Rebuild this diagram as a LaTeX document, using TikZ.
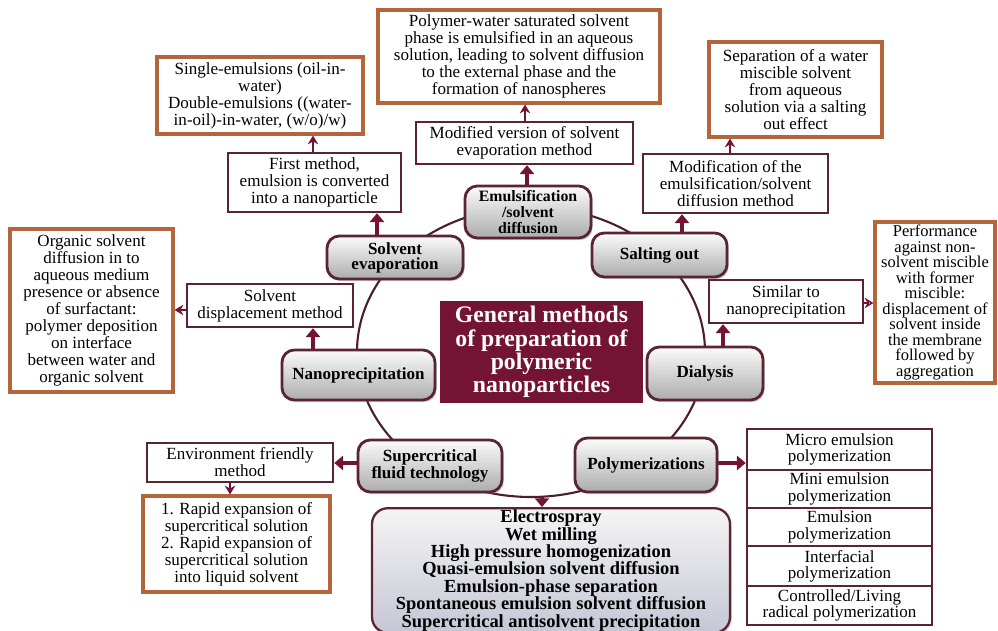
\documentclass[tikz,border=0pt]{standalone}
\usepackage{fontspec}
\setmainfont{Liberation Serif}
\usepackage{tikz}
\usetikzlibrary{arrows.meta,calc,shadows}
\definecolor{wine}{HTML}{741434}
\definecolor{maroonline}{HTML}{5A2432}
\definecolor{arcline}{HTML}{4A1F28}
\definecolor{orangeedge}{HTML}{B5653A}
\definecolor{lavender}{HTML}{C6C6D6}
\tikzset{
  wh/.style 2 args={minimum width=#1*0.02cm,minimum height=#2*0.02cm},
  method/.style={draw=maroonline,line width=1.6pt,rounded corners=7pt,top color=gray!3,
    bottom color=gray!65,align=center,font=\fontsize{9.7pt}{8.6pt}\bfseries,inner sep=1pt,
    drop shadow={opacity=.35,shadow xshift=1pt,shadow yshift=-1.2pt}},
  note/.style={draw=maroonline,line width=1.4pt,fill=white,align=center,inner sep=1pt},
  detail/.style={draw=orangeedge,line width=1.8pt,fill=white,align=center,inner sep=1pt},
  hub/.style={fill=wine,text=white,align=center,font=\fontsize{13.5pt}{13.2pt}\bfseries},
  fat/.style={-{Triangle[length=5pt,width=8pt]},draw=wine,line width=2.4pt},
  thin/.style={-{Stealth[length=5pt,width=6pt]},draw=wine,line width=1pt},
}

\begin{document}
\begin{tikzpicture}[x=0.02cm,y=-0.02cm,>=Stealth,font=\fontsize{9.7pt}{9.7pt}\selectfont]
  \useasboundingbox (0,0) rectangle (998,631);
  % ring linking the methods, drawn first so the boxes cover it
  \draw[arcline,line width=1.2pt] (531,352) ellipse (174 and 145);
  \coordinate (ringbot) at (542,497);
  \node[hub,wh={203}{102}] (hub) at (541.5,352)
    {General methods\\of preparation of\\polymeric\\nanoparticles};

  % methods sitting on the ring
  \node[method,wh={136}{43}] (solvevap) at (395,257.5) {Solvent\\evaporation};
  \node[method,wh={126}{52},font=\fontsize{9pt}{9pt}\bfseries] (emuls) at (528,212) {Emulsification\\/solvent\\diffusion};
  \node[method,wh={135}{44}] (saltout) at (659.5,255) {Salting out};
  \node[method,wh={153}{50}] (nanop) at (358.5,375) {Nanoprecipitation};
  \node[method,wh={116}{53}] (dialysis) at (705,373.5) {Dialysis};
  \node[method,wh={144}{52}] (superc) at (430,466) {Supercritical\\fluid technology};
  \node[method,wh={142}{54}] (polyz) at (646,465) {Polymerizations};

  % first level notes
  \node[note,wh={173}{59}] (first) at (314.5,182.5) {First method,\\emulsion is converted\\into a nanoparticle};
  \node[note,wh={166}{43}] (displ) at (270,305.5) {Solvent\\displacement method};
  \node[note,wh={217}{42}] (modver) at (524.5,143) {Modified version of solvent\\evaporation method};
  \node[note,wh={185}{59}] (modif) at (735.5,183.5) {Modification of the\\emulsification/solvent\\diffusion method};
  \node[note,wh={154}{43}] (similar) at (786,301.5) {Similar to\\nanoprecipitation};
  \node[note,wh={186}{39}] (envf) at (240,462.5) {Environment friendly\\method};

  % second level notes
  \node[detail,wh={206}{77}] (sing) at (260,95.5)
    {Single-emulsions (oil-in-\\water)\\Double-emulsions ((water-\\in-oil)-in-water, (w/o)/w)};
  \node[detail,wh={163}{163}] (organic) at (91.5,310.5)
    {Organic solvent\\diffusion in to\\aqueous medium\\presence or absence\\of surfactant:\\polymer deposition\\on interface\\between water and\\organic solvent};
  \node[detail,wh={282}{93}] (polyw) at (519,56.5)
    {Polymer-water saturated solvent\\phase is emulsified in an aqueous\\solution, leading to solvent diffusion\\to the external phase and the\\formation of nanospheres};
  \node[detail,wh={173}{95}] (separ) at (795.5,89.5)
    {Separation of a water\\miscible solvent\\from aqueous\\solution via a salting\\out effect};
  \node[detail,wh={120}{161},font=\fontsize{9.4pt}{8.8pt}\selectfont] (perf) at (935,302.5)
    {Performance\\against non-\\solvent miscible\\with former\\miscible:\\displacement of\\solvent inside\\the membrane\\followed by\\aggregation};
  \node[detail,wh={187}{96}] (rapid) at (236.5,544)
    {1. Rapid expansion of\\supercritical solution\\2. Rapid expansion of\\supercritical solution\\into liquid solvent};

  % polymerization list
  \foreach \i/\y/\h/\t in {1/449.5/41/{Micro emulsion\\polymerization},
      2/489/38/{Mini emulsion\\polymerization},
      3/527/38/{Emulsion\\polymerization},
      4/566/40/{Interfacial\\polymerization},
      5/605.5/39/{Controlled/Living\\radical polymerization}}
    \node[note,wh={185}{\h},font=\fontsize{9.7pt}{9.2pt}\selectfont] (list\i) at (839.5,\y) {\t};

  \node[method,wh={358}{117},rounded corners=9pt,top color=gray!8,bottom color=lavender,
    line width=1.3pt,font=\fontsize{10.5pt}{9.9pt}\bfseries] (others) at (551,570.5)
    {Electrospray\\Wet milling\\High pressure homogenization\\Quasi-emulsion solvent diffusion\\Emulsion-phase separation\\Spontaneous emulsion solvent diffusion\\Supercritical antisolvent precipitation};

  % connectors
  \draw[fat] (solvevap.north -| 377,0) -- (first.south -| 377,0);
  \draw[thin] (first.north -| 313,0) -- (sing.south -| 313,0);
  \draw[fat] (nanop.north -| 313,0) -- (displ.south -| 313,0);
  \draw[thin] (displ.west |- 0,310) -- (organic.east |- 0,310);
  \draw[fat] (emuls.north -| 527,0) -- (modver.south -| 527,0);
  \draw[thin] (modver.north -| 525,0) -- (polyw.south -| 525,0);
  \draw[fat] (saltout.north -| 682,0) -- (modif.south -| 682,0);
  \draw[thin] (modif.north -| 730,0) -- (separ.south -| 730,0);
  \draw[fat] (dialysis.north -| 723,0) -- (similar.south -| 723,0);
  \draw[-{Stealth[open,length=5pt,width=6pt]},wine,line width=1pt] (similar.east |- 0,303) -- (perf.west |- 0,303);
  \draw[fat] (superc.west |- 0,463) -- (envf.east |- 0,463);
  \draw[thin] (envf.south -| 230,0) -- (rapid.north -| 230,0);
  \draw[fat] (polyz.east |- 0,463) -- (list1.west |- 0,463);
  \draw[fat] (ringbot) -- (others.north -| ringbot);
\end{tikzpicture}
\end{document}
